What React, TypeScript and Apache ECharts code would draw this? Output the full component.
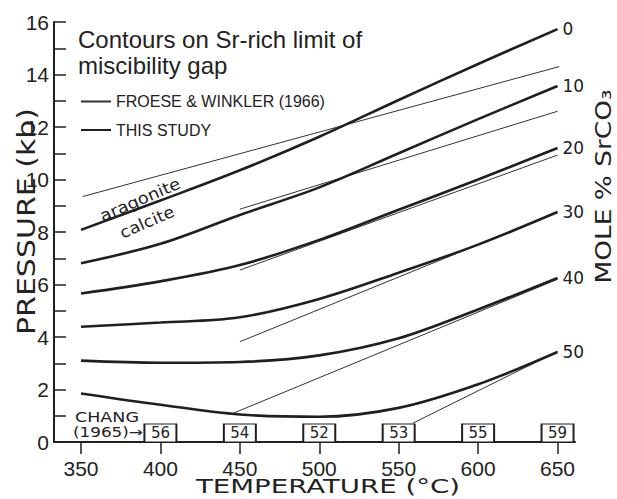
import React, { useEffect, useRef } from 'react';
import * as echarts from 'echarts';

// ---- data ----
const xTicks = [350, 400, 450, 500, 550, 600, 650];
const contourTemps = [350, 400, 450, 500, 550, 600, 650];
const contour0 = [8.08, 9.2, 10.35, 11.63, 13.03, 14.4, 15.73];
const contour10 = [6.81, 7.55, 8.65, 9.7, 11.0, 12.3, 13.56];
const contour20 = [5.66, 6.12, 6.74, 7.7, 8.85, 10.0, 11.2];
const contour30 = [4.39, 4.55, 4.75, 5.45, 6.45, 7.52, 8.76];
const contour40 = [3.1, 3.02, 3.05, 3.3, 3.95, 5.05, 6.25];
const contour50 = [1.85, 1.42, 1.05, 0.96, 1.3, 2.2, 3.43];
const contourLabels = ['0', '10', '20', '30', '40', '50'];

// Froese & Winkler (1966) straight contours: [temp, pressure] end points
const froeseA = [[351, 9.35], [651, 14.3]];
const froeseB = [[450, 8.87], [650, 12.6]];
const froeseC = [[450, 6.55], [650, 10.93]];
const froeseD = [[450, 3.82], [650, 8.75]];
const froeseE = [[446, 1.1], [650, 6.2]];
const froeseF = [[559, 0.72], [650, 3.45]];

// Chang (1965) values at 0 kb
const changTemps = [400, 450, 500, 550, 600, 650];
const changValues = [56, 54, 52, 53, 55, 59];

const THIN = 'FROESE & WINKLER (1966)';
const THICK = 'THIS STUDY';
const INK = '#1f1f1f';

export default function App() {
  const ref = useRef<HTMLDivElement>(null);

  useEffect(() => {
    if (!ref.current) return;
    const chart = echarts.init(ref.current, null, { renderer: 'svg' });

    const contours = [contour0, contour10, contour20, contour30, contour40, contour50];
    const thickSeries = contours.map((vals, i) => ({
      type: 'line',
      name: THICK,
      data: contourTemps.map((t, j) => [t, vals[j]]),
      smooth: 0.35,
      symbol: 'none',
      lineStyle: { color: INK, width: 2.6 },
      itemStyle: { color: INK },
      endLabel: {
        show: true,
        formatter: () => contourLabels[i],
        fontFamily: 'DejaVu Sans',
        fontSize: 17,
        color: '#222',
        distance: 5,
      },
      z: 3,
    }));

    const thinSeries = [froeseA, froeseB, froeseC, froeseD, froeseE, froeseF].map((d) => ({
      type: 'line',
      name: THIN,
      data: d,
      symbol: 'none',
      lineStyle: { color: '#333', width: 1 },
      itemStyle: { color: '#333' },
      z: 2,
    }));

    const changSeries = {
      type: 'scatter',
      name: 'CHANG (1965)',
      data: changTemps.map((t, i) => [t, 0, changValues[i]]),
      symbol: 'rect',
      symbolSize: [32, 18],
      symbolOffset: [0, -9],
      clip: false,
      itemStyle: { color: '#fff', borderColor: INK, borderWidth: 1.5, opacity: 1 },
      label: {
        show: true,
        position: 'inside',
        formatter: (p: any) => String(p.value[2]),
        fontFamily: 'DejaVu Sans',
        fontSize: 15,
        color: '#222',
      },
      z: 4,
    };

    const textStyleBase = { fill: '#222', align: 'center', verticalAlign: 'middle' };

    chart.setOption({
      animation: false,
      backgroundColor: '#fff',
      title: {
        text: 'Contours on Sr-rich limit of\nmiscibility gap',
        left: 78,
        top: 26,
        padding: 0,
        textStyle: {
          fontFamily: 'Liberation Sans',
          fontWeight: 'normal',
          fontSize: 24,
          lineHeight: 26,
          color: '#222',
        },
      },
      legend: {
        data: [THIN, THICK],
        orient: 'vertical',
        left: 80,
        top: 93.5,
        padding: 0,
        itemWidth: 30,
        itemHeight: 14,
        itemGap: 12.5,
        selectedMode: false,
        itemStyle: { opacity: 0 },
        textStyle: { fontFamily: 'Liberation Sans', fontSize: 16, color: '#222' },
      },
      grid: { left: 54, right: 42, top: 22, bottom: 57, containLabel: false, outerBoundsMode: 'none' },
      xAxis: {
        type: 'value',
        min: 333,
        max: 661,
        axisLine: { show: true, lineStyle: { color: INK, width: 2 } },
        axisTick: { show: true, customValues: xTicks, length: 12, lineStyle: { color: INK, width: 1.5 } },
        axisLabel: {
          customValues: xTicks,
          margin: 16,
          fontFamily: 'Liberation Sans',
          fontSize: 21,
          color: '#222',
        },
        splitLine: { show: false },
      },
      yAxis: {
        type: 'value',
        min: 0,
        max: 16,
        interval: 1,
        axisLine: { show: true, lineStyle: { color: INK, width: 2 } },
        axisTick: { show: true, inside: true, length: 12, lineStyle: { color: INK, width: 1.5 } },
        axisLabel: {
          formatter: (v: number) => (v % 2 === 0 ? String(v) : ''),
          margin: 5,
          fontFamily: 'Liberation Sans',
          fontSize: 21,
          color: '#222',
        },
        splitLine: { show: false },
      },
      graphic: [
        {
          type: 'text', x: 26, y: 221.5, rotation: Math.PI / 2, scaleX: 1.2,
          style: { ...textStyleBase, text: 'PRESSURE (kb)', font: '25px "DejaVu Sans"' },
        },
        {
          type: 'text', x: 603, y: 186.5, rotation: Math.PI / 2, scaleX: 1.2,
          style: { ...textStyleBase, text: 'MOLE % SrCO₃', font: '22px "DejaVu Sans"' },
        },
        {
          type: 'text', x: 328, y: 486, scaleX: 1.38,
          style: { ...textStyleBase, text: 'TEMPERATURE (°C)', font: '20px "DejaVu Sans"' },
        },
        {
          type: 'text', x: 75, y: 417, scaleX: 1.25,
          style: { fill: '#222', align: 'left', verticalAlign: 'middle', text: 'CHANG', font: '14px "DejaVu Sans"' },
        },
        {
          type: 'text', x: 73, y: 432.5, scaleX: 1.2,
          style: { fill: '#222', align: 'left', verticalAlign: 'middle', text: '(1965)→', font: '14px "DejaVu Sans"' },
        },
        {
          type: 'text', x: 140, y: 199.5, rotation: 0.41, scaleX: 1.12,
          style: { ...textStyleBase, text: 'aragonite', font: '16px "DejaVu Sans"' },
        },
        {
          type: 'text', x: 147, y: 222, rotation: 0.41, scaleX: 1.1,
          style: { ...textStyleBase, text: 'calcite', font: '16px "DejaVu Sans"' },
        },
      ],
      series: [...thinSeries, ...thickSeries, changSeries],
    });

    return () => chart.dispose();
  }, []);

  return (
    <div
      ref={ref}
      style={{ position: 'fixed', left: 0, top: 0, width: 617, height: 499, background: '#fff' }}
    />
  );
}
